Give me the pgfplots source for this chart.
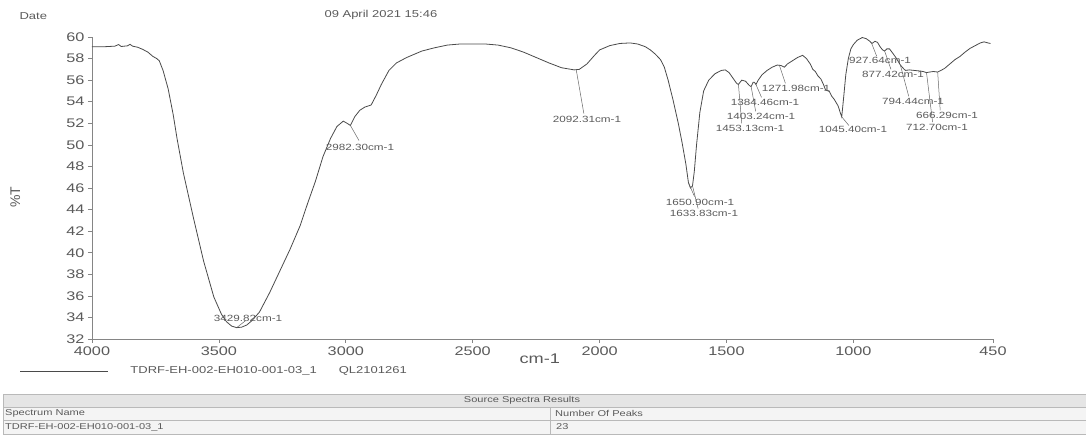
\documentclass[border=0pt]{standalone}
\usepackage{fontspec}
\setmainfont{Liberation Sans}[FakeStretch=1.3]
\newfontfamily\plainfont{Liberation Sans}
\usepackage{pgfplots}
\pgfplotsset{compat=1.18}
\definecolor{txt}{HTML}{5A5A5A}
\definecolor{crv}{HTML}{4A4A4A}
\definecolor{axc}{HTML}{858585}
\begin{document}
\begin{tikzpicture}[x=1pt,y=1pt,
  lbl/.style={font=\fontsize{9}{10}\selectfont, text=txt, inner sep=0.5pt},
  ldr/.style={draw=gray!80!black, line width=0.5pt}]
\useasboundingbox (0,0) rectangle (1086,438);
\node[anchor=west, text=txt, font=\fontsize{10}{11}\selectfont] at (16,422) {Date};
\node[anchor=west, text=txt, font=\fontsize{10}{11}\selectfont] at (321,423) {09 April 2021 15:46};
\begin{axis}[
  at={(92pt,99pt)}, anchor=south west,
  scale only axis, width=901pt, height=302pt,
  xmin=450, xmax=4000, ymin=32, ymax=60,
  x dir=reverse,
  axis x line*=bottom, axis y line*=left,
  axis line style={draw=axc, line width=0.6pt, -},
  xtick={4000,3500,3000,2500,2000,1500,1000,450},
  ytick={32,34,...,60},
  tick align=outside, major tick length=4pt,
  tick style={draw=axc, line width=0.6pt},
  ticklabel style={font=\fontsize{12.5}{13}\selectfont, text=txt},
  /pgf/number format/assume math mode=true,
  /pgf/number format/1000 sep={},
  xlabel={cm-1}, ylabel={\%T},
  xlabel style={at={(axis description cs:0.497,-0.065)}, anchor=center, font=\fontsize{14}{15}\selectfont, text=txt},
  ylabel style={at={(axis description cs:-0.085,0.47)}, anchor=center, font=\plainfont\fontsize{14}{15}\selectfont, text=txt},
  clip=false,
  legend style={at={(axis description cs:-0.0805,-0.106)}, anchor=west, draw=none, fill=none, inner sep=0pt,
    font=\fontsize{10}{11}\selectfont, text=txt, column sep=0pt, nodes={inner sep=0pt}},
  legend image code/.code={\draw[#1] (0pt,0pt) -- (88pt,0pt);},
]
\addplot[crv, line width=0.8pt] table {
4000 59.10
3950 59.10
3910 59.15
3895 59.30
3885 59.12
3860 59.18
3850 59.32
3840 59.15
3820 59.05
3800 58.85
3780 58.60
3760 58.20
3745 58.00
3735 57.80
3720 56.90
3700 55.20
3680 52.80
3665 50.60
3640 47.40
3600 43.20
3560 39.20
3520 35.90
3490 34.30
3470 33.60
3450 33.20
3430 33.05
3410 33.10
3390 33.30
3370 33.70
3340 34.50
3300 36.30
3260 38.30
3220 40.30
3180 42.50
3150 44.60
3120 46.60
3090 48.90
3060 50.60
3035 51.70
3010 52.20
2995 52.00
2982 51.80
2965 52.60
2945 53.20
2925 53.50
2900 53.70
2880 54.60
2860 55.60
2830 56.90
2800 57.60
2760 58.10
2700 58.70
2650 59.00
2600 59.25
2550 59.35
2450 59.35
2400 59.25
2350 59.00
2300 58.60
2250 58.10
2200 57.60
2150 57.15
2100 56.95
2080 57.00
2050 57.50
2020 58.30
2000 58.80
1960 59.20
1920 59.40
1880 59.45
1850 59.35
1820 59.10
1800 58.80
1780 58.40
1760 57.90
1745 57.20
1730 56.00
1711 54.20
1690 52.00
1675 50.20
1660 48.20
1650 46.50
1642 46.00
1634 46.20
1627 47.50
1618 50.00
1605 53.00
1590 55.00
1570 56.00
1545 56.60
1520 56.90
1505 56.95
1490 56.70
1475 56.20
1460 55.70
1453 55.60
1440 56.00
1425 55.90
1410 55.50
1403 55.40
1395 55.80
1390 55.80
1384 55.60
1375 56.00
1360 56.50
1340 56.90
1320 57.20
1300 57.40
1285 57.35
1272 57.20
1260 57.50
1240 57.80
1220 58.10
1200 58.30
1185 58.00
1170 57.50
1160 57.00
1150 56.80
1140 56.40
1128 56.10
1118 55.60
1110 55.10
1095 54.95
1085 54.50
1075 54.20
1060 53.60
1052 53.00
1046 52.60
1038 54.50
1030 56.50
1020 58.00
1010 58.90
1000 59.30
985 59.70
965 59.95
950 59.85
935 59.60
927 59.40
915 59.60
905 59.50
895 59.10
885 58.80
877 58.70
868 58.90
858 58.90
845 58.50
830 58.00
815 57.40
800 57.00
794 56.90
780 56.95
760 56.90
740 56.85
725 56.80
712 56.70
700 56.75
685 56.80
668 56.75
655 56.90
640 57.10
620 57.50
600 57.90
580 58.20
560 58.60
540 58.95
520 59.20
500 59.45
485 59.55
470 59.45
460 59.40
};
\addlegendentry{\hspace{22pt}TDRF-EH-002-EH010-001-03\_1\hspace{22pt}QL2101261}
% peak labels and leaders
\draw[ldr] (axis cs:3430,33.05) -- (axis cs:3395,33.7);
\node[lbl] at (axis cs:3385,33.95) {3429.82cm-1};
\draw[ldr] (axis cs:2982,51.8) -- (axis cs:2948,50.4);
\node[lbl] at (axis cs:2944,49.8) {2982.30cm-1};
\draw[ldr] (axis cs:2092,56.95) -- (axis cs:2062,52.9);
\node[lbl] at (axis cs:2050,52.4) {2092.31cm-1};
\draw[ldr] (axis cs:1650,46.5) -- (axis cs:1626,45.2);
\node[lbl] at (axis cs:1604,44.7) {1650.90cm-1};
\draw[ldr] (axis cs:1634,46.2) -- (axis cs:1612,44.1);
\node[lbl] at (axis cs:1589,43.6) {1633.83cm-1};
\draw[ldr] (axis cs:1453,55.6) -- (axis cs:1440,52.0);
\node[lbl] at (axis cs:1407,51.5) {1453.13cm-1};
\draw[ldr] (axis cs:1403,55.4) -- (axis cs:1385,53.1);
\node[lbl] at (axis cs:1364,52.6) {1403.24cm-1};
\draw[ldr] (axis cs:1384,55.6) -- (axis cs:1362,54.4);
\node[lbl] at (axis cs:1348,53.9) {1384.46cm-1};
\draw[ldr] (axis cs:1292,57.4) -- (axis cs:1268,55.7);
\node[lbl] at (axis cs:1226,55.2) {1271.98cm-1};
\draw[ldr] (axis cs:1046,52.6) -- (axis cs:1018,51.8);
\node[lbl] at (axis cs:1002,51.4) {1045.40cm-1};
\draw[ldr] (axis cs:928,59.4) -- (axis cs:908,58.2);
\node[lbl] at (axis cs:895,57.8) {927.64cm-1};
\draw[ldr] (axis cs:877,58.7) -- (axis cs:852,57.0);
\node[lbl] at (axis cs:844,56.5) {877.42cm-1};
\draw[ldr] (axis cs:815,57.4) -- (axis cs:782,54.5);
\node[lbl] at (axis cs:765,54.0) {794.44cm-1};
\draw[ldr] (axis cs:712,56.7) -- (axis cs:688,52.1);
\node[lbl] at (axis cs:671,51.6) {712.70cm-1};
\draw[ldr] (axis cs:668,56.75) -- (axis cs:658,53.2);
\node[lbl] at (axis cs:631,52.7) {666.29cm-1};
\end{axis}
% table
\fill[gray!20] (3,31) rectangle (1086,44);
\fill[gray!9] (3,4) rectangle (1086,31);
\draw[gray!55, line width=0.6pt] (3,4) rectangle (1086,44);
\draw[gray!55, line width=0.6pt] (3,31) -- (1086,31);
\draw[gray!55, line width=0.6pt] (3,18) -- (1086,18);
\draw[gray!55, line width=0.6pt] (550,4) -- (550,31);
\begin{scope}[every node/.style={text=txt, font=\fontsize{8.5}{9}\selectfont, inner sep=0pt}]
\node at (522,37.5) {Source Spectra Results};
\node[anchor=west] at (5,24.5) {Spectrum Name};
\node[anchor=west] at (555,24.5) {Number Of Peaks};
\node[anchor=west] at (5,11) {TDRF-EH-002-EH010-001-03\_1};
\node[anchor=west] at (556,11) {23};
\end{scope}
\end{tikzpicture}
\end{document}
